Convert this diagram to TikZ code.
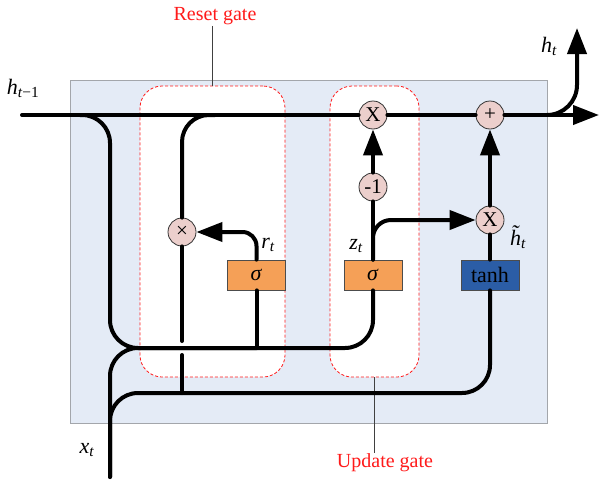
\documentclass[tikz,border=0pt]{standalone}
\usepackage{fontspec}
\setmainfont{Liberation Serif}
\usetikzlibrary{arrows.meta}

\definecolor{panel}{HTML}{E4EBF6}
\definecolor{panelline}{HTML}{A3A6AB}
\definecolor{opfill}{HTML}{ECCFCC}
\definecolor{sigfill}{HTML}{F5A057}
\definecolor{tanhfill}{HTML}{2B5DA6}
\definecolor{gatered}{HTML}{FF1A1A}

\newcommand{\sub}[1]{\textsubscript{\itshape #1}}
% italic h with a tilde set above it
\newcommand{\htilde}{\textit{h}\llap{\raisebox{0.24em}{\textit{\char"02DC}}\hspace{0.06em}}}

\begin{document}
\begin{tikzpicture}[x=1pt,y=-1pt,
  wire/.style={line width=4pt, line cap=round},
  tipped/.style={wire, -{Triangle[length=26pt,width=19pt]}},
  op/.style={circle, draw=black!80, line width=0.8pt, fill=opfill,
    minimum size=28pt, inner sep=0pt, font=\fontsize{21}{21}\selectfont},
  gatebox/.style={draw=black!70, line width=0.8pt, minimum width=58pt,
    minimum height=30pt, inner sep=0pt, font=\fontsize{22}{22}\selectfont},
  region/.style={draw=gatered, line width=0.8pt, dash pattern=on 3pt off 2pt,
    fill=white, rounded corners=22pt, inner sep=0pt},
  caption/.style={text=gatered, inner sep=1pt, font=\fontsize{20}{20}\selectfont},
  leader/.style={draw=black!75, line width=0.8pt},
  lbl/.style={inner sep=0pt, font=\fontsize{22}{22}\selectfont}
]
\useasboundingbox (0,0) rectangle (599,479);

% cell panel
\draw[fill=panel, draw=panelline, line width=0.8pt] (70,80) rectangle (547,423);

% gate regions
\node[region, minimum width=145pt, minimum height=291pt] (reset) at (212.5,231.5) {};
\node[region, minimum width=89pt, minimum height=291pt] (update) at (374.5,231.5) {};

% captions
\node[caption] (resetcap) at (215,16) {Reset gate};
\node[caption] (updatecap) at (385,463) {Update gate};
\draw[leader] (resetcap.south -| reset.north) -- (reset.north);
\draw[leader] (update.south) -- (update.south |- updatecap.north);

% operators
\node[op] (mr) at (182,232) {×};
\node[op] (mz) at (373,115) {X};
\node[op] (neg) at (373,187) {-1};
\node[op] (add) at (490,115) {+};
\node[op] (mh) at (490,220) {X};

% activation boxes
\node[gatebox, fill=sigfill] (s1) at (256.5,275) {\textit{σ}};
\node[gatebox, fill=sigfill] (s2) at (373,275) {\textit{σ}};
\node[gatebox, fill=tanhfill] (th) at (490,275) {tanh};

% junction points
\coordinate (hin) at (22,115);
\coordinate (hout) at (599,115);
\coordinate (hsplit) at (547,115);
\coordinate (htop) at (577,28);
\coordinate (tapA) at (80,115);
\coordinate (tapB) at (215,115);
\coordinate (xin) at (110,477);
\coordinate (mixA) at (110,348);
\coordinate (mixB) at (490,393);
\coordinate (hopA) at (182,341);
\coordinate (hopB) at (182,355);
\coordinate (rjoin) at (182,393);

% hidden state line
\draw[wire] (hin) -- (mz);
\draw[wire] (mz) -- (add);
\draw[tipped] (add) -- (hout);
\draw[tipped, rounded corners=30pt] (hsplit) -| (htop);

% h_{t-1} and x_t into the gates
\draw[wire, rounded corners=28pt] (tapA) -| (mixA) -| (s2.south);
\draw[wire, rounded corners=28pt] (xin) |- (mixA -| s1.south);
\draw[wire] (s1.south) -- (s1.south |- mixA);
\draw[wire, rounded corners=28pt] (xin) |- (mixB) -- (th.south);

% reset path
\draw[wire, rounded corners=27pt] (tapB) -| (mr);
\draw[wire] (mr) -- (hopA);
\draw[wire] (hopB) -- (rjoin);
\draw[tipped, rounded corners=14pt] (s1.north) |- (mr);

% update path
\draw[wire] (s2.north) -- (neg);
\draw[tipped] (neg) -- (mz);
\draw[tipped, rounded corners=18pt] (s2.north) |- (mh);
\draw[wire] (th) -- (mh);
\draw[tipped] (mh) -- (add);

% labels
\node[lbl] (lhprev) at (23,88) {\textit{h}\textsubscript{\textit{t}−1}};
\node[lbl] (lh) at (549,46) {\textit{h}\sub{t}};
\node[lbl] (lx) at (87,450) {\textit{x}\sub{t}};
\node[lbl] (lr) at (268,245) {\textit{r}\sub{t}};
\node[lbl] (lz) at (356,246) {\textit{z}\sub{t}};
\node[lbl] (lhc) at (518,237) {\htilde\sub{t}};
\end{tikzpicture}
\end{document}
